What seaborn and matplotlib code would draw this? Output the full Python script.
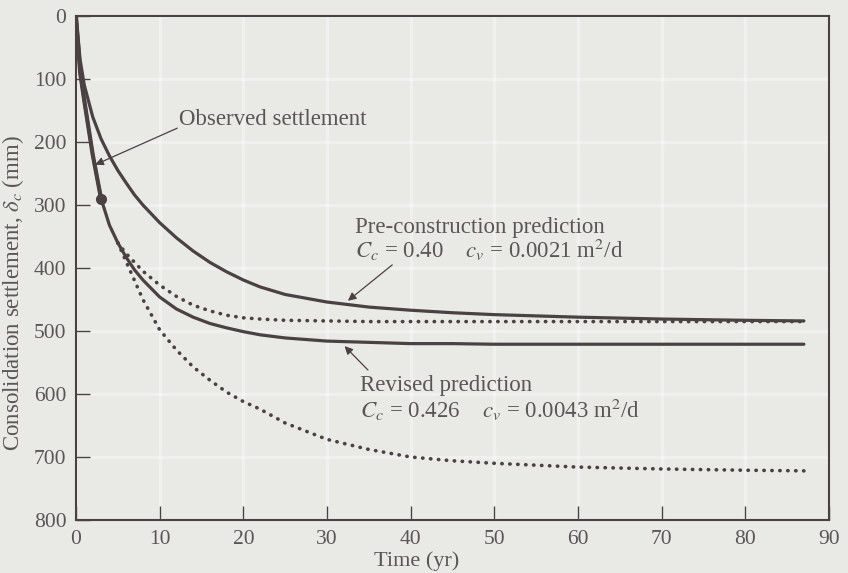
import seaborn as sns
import numpy as np
import matplotlib.pyplot as plt

# Data
t = [0, 0.5, 1, 2, 3, 4, 5, 6, 7, 8, 10, 12, 14, 16, 18, 20, 22, 25, 30, 35, 40, 45, 50, 60, 70, 80, 87]
pre_solid = [0, 70, 110, 160, 195, 222, 245, 265, 284, 300, 328, 352, 373, 391, 406, 419, 430, 442,
             454, 462, 467, 471, 474, 478, 481, 483, 484]
rev_solid = [0, 90, 135, 220, 290, 332, 360, 383, 403, 419, 446, 465, 478, 488, 495, 501, 506, 511,
             516, 518, 520, 520, 521, 521, 521, 521, 521]

t_dot = [5, 6, 7, 8, 10, 12, 14, 16, 18, 20, 22, 25, 30, 35, 40, 45, 50, 60, 70, 80, 87]
pre_dotted = [360, 377, 391, 405, 427, 445, 459, 468, 475, 479, 481, 483, 484, 485, 485, 485, 485,
              485, 485, 485, 485]
rev_dotted = [360, 390, 420, 450, 498, 530, 557, 578, 597, 612, 624, 646, 672, 688, 700, 706, 710,
              716, 719, 721, 722]

t_obs = [0, 0.5, 1, 2, 3]
obs = [0, 90, 135, 220, 290]

x_ticks = list(range(0, 91, 10))
y_ticks = list(range(0, 801, 100))

bg = "#e9e9e6"
ink = "#4a4142"
txt = "#5b5656"

sns.set_style("white")
plt.rcParams["font.family"] = ["Liberation Serif", "DejaVu Serif"]
plt.rcParams["mathtext.fontset"] = "stix"

fig = plt.figure(figsize=(8.48, 5.73), dpi=100, facecolor=bg)
ax = fig.add_axes([0.0896, 0.0925, 0.888, 0.8795], facecolor=bg)

ax.grid(True, color="white", lw=2.5, alpha=0.35)

dots = dict(lw=2.6, linestyle=(0, (0.1, 2.1)), dash_capstyle="round")
sns.lineplot(x=t, y=pre_solid, ax=ax, color=ink, lw=2.3, sort=False)
sns.lineplot(x=t, y=rev_solid, ax=ax, color=ink, lw=2.3, sort=False)
sns.lineplot(x=t_dot, y=pre_dotted, ax=ax, color=ink, sort=False, **dots)
sns.lineplot(x=t_dot, y=rev_dotted, ax=ax, color=ink, sort=False, **dots)
sns.lineplot(x=t_obs, y=obs, ax=ax, color=ink, lw=3.0, sort=False)
ax.plot(t_obs[-1], obs[-1], "o", color=ink, ms=7)

ax.set_xlim(0, 90)
ax.set_ylim(800, 0)
ax.set_xticks(x_ticks)
ax.set_yticks(y_ticks)
ax.tick_params(bottom=True, left=True, direction="in", length=10, width=1, color=ink,
               labelcolor=txt, labelsize=15.5, pad=7)
for s in ax.spines.values():
    s.set_color(ink)
    s.set_linewidth(1.5)

ax.set_xlabel("Time (yr)", fontsize=16, color=txt)
ax.xaxis.set_label_coords(0.452, -0.062)
ax.set_ylabel(r"Consolidation settlement, $\delta_c$ (mm)", fontsize=16.5, color=txt)
ax.yaxis.set_label_coords(-0.066, 0.45)

arrow = dict(arrowstyle="-|>", color=ink, lw=0.9, mutation_scale=12, shrinkA=0, shrinkB=0)

ax.text(12.3, 165, "Observed settlement", fontsize=16.5, color=txt, va="center", ha="left")
ax.annotate("", xy=(2.3, 236), xytext=(12.1, 178), arrowprops=arrow)

ax.text(33.3, 335, "Pre-construction prediction", fontsize=16.5, color=txt, va="center", ha="left")
ax.text(33.3, 371, r"$C_c$ = 0.40    $c_v$ = 0.0021 m$^2$/d", fontsize=16.5, color=txt,
        va="center", ha="left")
ax.annotate("", xy=(32.5, 452), xytext=(37.8, 395), arrowprops=arrow)

ax.text(34.0, 586, "Revised prediction", fontsize=16.5, color=txt, va="center", ha="left")
ax.text(34.0, 625, r"$C_c$ = 0.426    $c_v$ = 0.0043 m$^2$/d", fontsize=16.5, color=txt,
        va="center", ha="left")
ax.annotate("", xy=(32.1, 524), xytext=(34.9, 562), arrowprops=arrow)

plt.savefig("out.png", dpi=100, facecolor=bg)
